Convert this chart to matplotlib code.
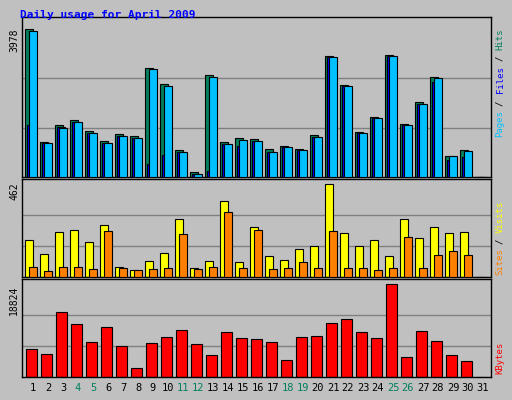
import matplotlib
matplotlib.use("Agg")
import matplotlib.pyplot as plt
import numpy as np

days = list(range(1, 32))
hits = [3978,940,1401,1537,1239,967,1157,1103,2920,2513,723,127,2730,940,1049,1022,750,832,750,1130,3246,2486,1211,1618,3273,1428,2025,2694,560,723,0]
files = [3924,913,1320,1483,1184,913,1103,1049,2893,2459,669,72,2676,886,995,967,669,805,723,1076,3219,2459,1184,1591,3246,1401,1971,2649,560,696,0]
pages = [1401,913,1347,1483,1184,913,1103,1049,344,588,669,72,154,886,832,967,669,805,723,1076,3219,2459,1184,1591,3246,1401,1971,2568,452,533,0]
sites = [185,115,225,235,175,260,50,35,80,120,290,45,80,380,75,250,105,85,140,155,462,220,155,185,105,290,195,250,220,225,0]
visits = [50,30,50,50,40,230,45,35,40,45,215,40,50,325,45,235,40,45,75,45,230,45,45,35,45,200,45,110,130,110,0]
kbytes = [5792,4758,13239,10757,7033,10136,6206,1862,6826,8067,9515,6619,4551,9102,7861,7654,7033,3517,8067,8274,10963,11791,9102,7861,18824,4137,9309,7240,4551,3310,0]
weekends = [4,5,11,12,18,19,25,26]

W, H = 512, 400
fig = plt.figure(figsize=(W/100, H/100), dpi=100)
fig.patch.set_facecolor('#c0c0c0')
mono = 'DejaVu Sans Mono'
x = np.array(days)

def mkax(top, bot):
    ax = fig.add_axes([22/W, 1-bot/H, (491-22)/W, (bot-top)/H])
    ax.set_facecolor('#c0c0c0')
    ax.set_xlim(1-11/15, 1+458/15)
    ax.set_xticks([])
    ax.set_yticks([])
    for s in ax.spines.values():
        s.set_color('black'); s.set_linewidth(1)
    return ax

def grid(ax, m):
    for f in (1/3, 2/3):
        ax.axhline(m*f, color='#808080', lw=1, zorder=0)

ax1 = mkax(17, 177)
mx = max(hits)
ax1.set_ylim(0, mx*159/147)
grid(ax1, mx)
ax1.bar(x-0.27, hits, 0.49, color='#00805c', edgecolor='black', lw=0.8, zorder=2)
ax1.bar(x-0.13, pages, 0.49, color='#0000ff', edgecolor='black', lw=0.8, zorder=3)
ax1.bar(x, files, 0.49, color='#00c0ff', edgecolor='black', lw=0.8, zorder=4)

ax2 = mkax(179, 277)
mx2 = max(sites)
ax2.set_ylim(0, mx2*97.3/92.3)
grid(ax2, mx2)
ax2.bar(x-0.27, sites, 0.49, color='#ffff00', edgecolor='black', lw=0.8, zorder=2)
ax2.bar(x, visits, 0.49, color='#ff8000', edgecolor='black', lw=0.8, zorder=3)

ax3 = mkax(279, 377)
mx3 = max(kbytes)
ax3.set_ylim(0, mx3*96.3/91)
grid(ax3, mx3)
ax3.bar(x-0.1, kbytes, 0.67, color='#ff0000', edgecolor='black', lw=0.8, zorder=2)

def ptxt(px, py, s, color='black', rot=0, size=7, weight='normal', ha='center', va='center'):
    fig.text(px/W, 1-py/H, s, color=color, rotation=rot, fontsize=size,
             family=mono, weight=weight, ha=ha, va=va)

ptxt(20, 15, 'Daily usage for April 2009', color='#0000ff', size=8, weight='bold', ha='left')
ptxt(14, 40, f'{max(hits)}', rot=90)
ptxt(14, 191, f'{max(sites)}', rot=90)
ptxt(14, 300, f'{max(kbytes)}', rot=90)

for d in days:
    ptxt(33+(d-1)*15, 388, str(d), color='#00805c' if d in weekends else 'black', size=7.5)

rs = 6.5
ptxt(500, 124, 'Pages', color='#00c0ff', rot=90, size=rs)
ptxt(500, 103, '/', rot=90, size=rs)
ptxt(500, 80, 'Files', color='#0000ff', rot=90, size=rs)
ptxt(500, 58, '/', rot=90, size=rs)
ptxt(500, 39, 'Hits', color='#00805c', rot=90, size=rs)
ptxt(500, 262, 'Sites', color='#ff8000', rot=90, size=rs)
ptxt(500, 241, '/', rot=90, size=rs)
ptxt(500, 217, 'Visits', color='#ffff00', rot=90, size=rs)
ptxt(500, 358, 'KBytes', color='#ff0000', rot=90, size=rs)

fig.savefig('out.png', dpi=100, facecolor=fig.get_facecolor())
